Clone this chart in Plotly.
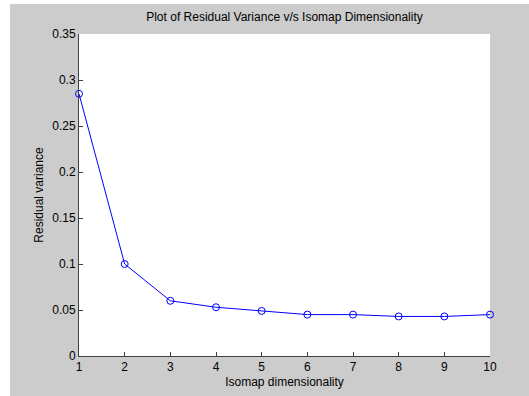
import plotly.graph_objects as go

dims = [1, 2, 3, 4, 5, 6, 7, 8, 9, 10]
residual_variance = [0.285, 0.100, 0.060, 0.053, 0.049, 0.045, 0.045, 0.043, 0.043, 0.045]
y_ticks = [0, 0.05, 0.1, 0.15, 0.2, 0.25, 0.3, 0.35]
y_tick_labels = ["0", "0.05", "0.1", "0.15", "0.2", "0.25", "0.3", "0.35"]
x_ticks = dims

W, H = 529, 396
L, R, T, B = 79, 490, 34, 356

fig = go.Figure()
fig.add_trace(go.Scatter(
    x=dims, y=residual_variance, mode="lines+markers",
    line=dict(color="#0000ff", width=1),
    marker=dict(symbol="circle-open", size=7, color="#0000ff", line=dict(width=1)),
    cliponaxis=False, showlegend=False,
))

px = lambda p: (p - L) / (R - L)
py = lambda q: (B - q) / (B - T)

fig.add_shape(type="rect", xref="paper", yref="paper",
              x0=px(-5), x1=px(10), y0=py(400), y1=py(-5),
              fillcolor="white", line_width=0, layer="below")
fig.add_shape(type="rect", xref="paper", yref="paper",
              x0=px(-5), x1=px(535), y0=py(4), y1=py(-5),
              fillcolor="white", line_width=0, layer="below")

axis_common = dict(
    showgrid=False, zeroline=False, showline=True, linecolor="#404040", linewidth=1,
    ticks="inside", ticklen=4, tickcolor="#404040", mirror=False, automargin=False,
    tickfont=dict(family="Liberation Sans, Arial", size=12, color="black"),
)

fig.update_layout(
    width=W, height=H,
    margin=dict(l=L, r=W - R, t=T, b=H - B, pad=0, autoexpand=False),
    paper_bgcolor="#cccccc", plot_bgcolor="white",
    title=dict(text="Plot of Residual Variance v/s Isomap Dimensionality",
               x=0.5, xanchor="center", xref="paper", y=1 - 17 / H, yanchor="middle",
               font=dict(family="Liberation Sans, Arial", size=12, color="black")),
    xaxis=dict(range=[1, 10], tickvals=x_ticks,
               title=dict(text="Isomap dimensionality", standoff=4,
                          font=dict(family="Liberation Sans, Arial", size=12, color="black")),
               **axis_common),
    yaxis=dict(range=[0, 0.35], tickvals=y_ticks, ticktext=y_tick_labels,
               title=dict(text="Residual variance", standoff=6,
                          font=dict(family="Liberation Sans, Arial", size=12, color="black")),
               **axis_common),
)

fig.write_html(
    "out.html",
    config={"displayModeBar": False},
    post_script="document.body.style.margin='0px';document.body.style.padding='0px';"
                "document.body.style.overflow='hidden';"
                "document.documentElement.style.overflow='hidden';"
                "document.documentElement.style.background='#cccccc';"
                "document.body.style.background='#cccccc';window.scrollTo(0,0);",
)
